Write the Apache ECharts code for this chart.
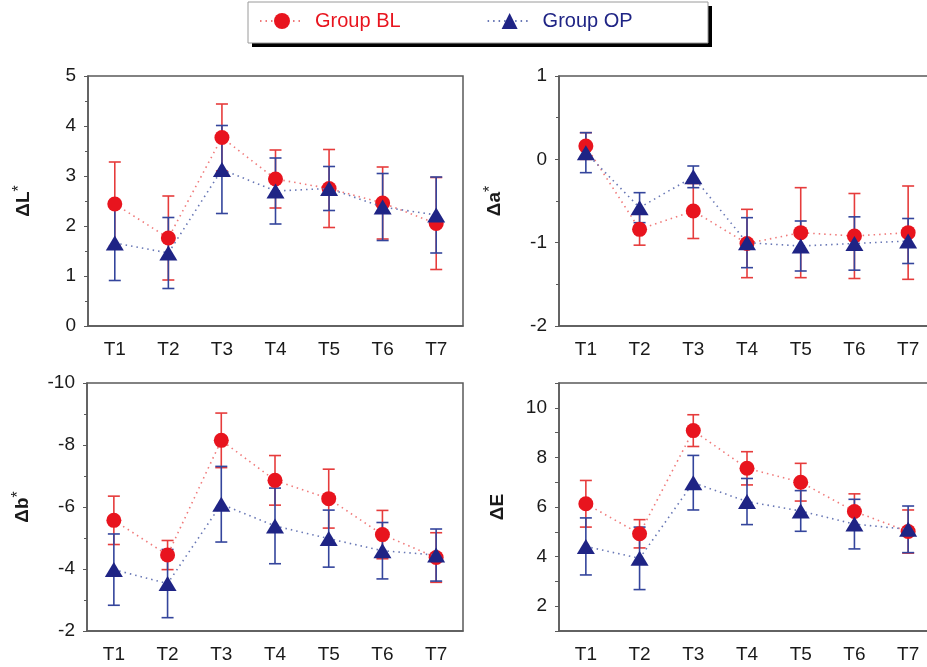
<!DOCTYPE html>
<html>
<head>
<meta charset="utf-8">
<title>Color change chart</title>
<script src="https://cdn.jsdelivr.net/npm/echarts@6/dist/echarts.min.js"></script>
<style>
  html, body { margin: 0; padding: 0; background: #fff; }
  #chart { width: 927px; height: 667px; }
</style>
</head>
<body>
<div id="chart"></div>
<script>
// categories
const categories = ['T1', 'T2', 'T3', 'T4', 'T5', 'T6', 'T7']

// ΔL* (mean / sd)
const lBL = [2.44, 1.76, 3.77, 2.94, 2.75, 2.46, 2.05]
const lBLsd = [0.84, 0.84, 0.67, 0.58, 0.78, 0.72, 0.92]
const lOP = [1.66, 1.46, 3.13, 2.70, 2.75, 2.38, 2.22]
const lOPsd = [0.75, 0.71, 0.88, 0.66, 0.44, 0.67, 0.76]

// Δa*
const aBL = [0.16, -0.84, -0.62, -1.01, -0.88, -0.92, -0.88]
const aBLsd = [0.16, 0.19, 0.33, 0.41, 0.54, 0.51, 0.56]
const aOP = [0.08, -0.58, -0.21, -1.00, -1.04, -1.01, -0.98]
const aOPsd = [0.24, 0.18, 0.13, 0.30, 0.30, 0.32, 0.27]

// Δb*
const bBL = [-5.57, -4.45, -8.15, -6.86, -6.27, -5.11, -4.37]
const bBLsd = [0.78, 0.47, 0.88, 0.80, 0.95, 0.78, 0.80]
const bOP = [-3.98, -3.53, -6.09, -5.39, -4.98, -4.59, -4.45]
const bOPsd = [1.15, 1.10, 1.22, 1.22, 0.92, 0.91, 0.84]

// ΔE
const eBL = [6.13, 4.92, 9.08, 7.56, 7.00, 5.82, 5.01]
const eBLsd = [0.94, 0.57, 0.64, 0.67, 0.76, 0.71, 0.87]
const eOP = [4.41, 3.93, 6.98, 6.22, 5.84, 5.31, 5.10]
const eOPsd = [1.15, 1.26, 1.10, 0.93, 0.82, 1.00, 0.94]

const FONT = 'Liberation Sans, Arial, sans-serif'
const RED = '#e8141e'
const NAVY = '#1f2485'
const RED_BAR = '#e63c3c'
const NAVY_BAR = '#34459c'
const AXIS = '#5a5a5a'

const panels = [
  { name: 'ΔL', mean: [lBL, lOP], sd: [lBLsd, lOPsd], min: 0, max: 5, interval: 1, grid: { left: 88, top: 76, width: 375, height: 250 } },
  { name: 'Δa', mean: [aBL, aOP], sd: [aBLsd, aOPsd], min: -2, max: 1, interval: 1, grid: { left: 559, top: 76, width: 376, height: 250 } },
  { name: 'Δb', mean: [bBL, bOP], sd: [bBLsd, bOPsd], min: -10, max: -2, interval: 2, inverse: true, grid: { left: 87, top: 383, width: 376, height: 248 } },
  { name: 'ΔE', mean: [eBL, eOP], sd: [eBLsd, eOPsd], min: 1, max: 11, interval: 1, even: true, grid: { left: 559, top: 383, width: 376, height: 248 } }
]

function errorBars (color) {
  return function (params, api) {
    const x = api.value(0)
    const lo = api.coord([x, api.value(1)])
    const hi = api.coord([x, api.value(2)])
    const w = 6
    const style = { stroke: color, lineWidth: 1.6 }
    return {
      type: 'group',
      children: [
        { type: 'line', shape: { x1: lo[0], y1: lo[1], x2: hi[0], y2: hi[1] }, style: style },
        { type: 'line', shape: { x1: lo[0] - w, y1: lo[1], x2: lo[0] + w, y2: lo[1] }, style: style },
        { type: 'line', shape: { x1: hi[0] - w, y1: hi[1], x2: hi[0] + w, y2: hi[1] }, style: style }
      ]
    }
  }
}

const grid = []
const xAxis = []
const yAxis = []
const series = []

panels.forEach((p, i) => {
  grid.push(Object.assign({
    show: true,
    borderColor: AXIS,
    borderWidth: 1.5,
    backgroundColor: 'transparent',
    outerBoundsMode: 'none'
  }, p.grid))
  xAxis.push({
    type: 'category',
    gridIndex: i,
    data: categories,
    boundaryGap: true,
    axisLine: { onZero: false, lineStyle: { color: AXIS, width: 1.5 } },
    axisTick: { alignWithLabel: true, length: 4, lineStyle: { color: AXIS } },
    axisLabel: { color: '#1a1a1a', fontSize: 19, fontFamily: FONT, margin: 14 },
    splitLine: { show: false }
  })
  yAxis.push({
    type: 'value',
    gridIndex: i,
    min: p.min,
    max: p.max,
    interval: p.interval,
    inverse: !!p.inverse,
    name: '{a|' + p.name + '}' + (p.name === 'ΔE' ? '' : '{s|*}'),
    nameLocation: 'middle',
    nameGap: 52,
    nameTextStyle: {
      rich: {
        a: { fontSize: 19, fontWeight: 'bold', fontFamily: FONT, color: '#1a1a1a' },
        s: { fontSize: 16, fontFamily: FONT, color: '#1a1a1a', padding: [0, 0, 8, 0] }
      }
    },
    axisLine: { show: true, onZero: false, lineStyle: { color: AXIS, width: 1.5 } },
    axisTick: { show: true, length: 4, lineStyle: { color: AXIS } },
    minorTick: { show: !p.even, splitNumber: 2, length: 3, lineStyle: { color: AXIS } },
    axisLabel: {
      color: '#1a1a1a',
      fontSize: 19,
      fontFamily: FONT,
      margin: 12,
      formatter: v => (p.even && v % 2 !== 0) ? '' : String(v)
    },
    splitLine: { show: false }
  })

  const barColors = [RED_BAR, NAVY_BAR]
  ;[0, 1].forEach(g => {
    series.push({
      name: g === 0 ? 'BL error' : 'OP error',
      type: 'custom',
      xAxisIndex: i,
      yAxisIndex: i,
      z: 2 + g,
      renderItem: errorBars(barColors[g]),
      encode: { x: 0, y: [1, 2] },
      data: p.mean[g].map((m, k) => [k, m - p.sd[g][k], m + p.sd[g][k]])
    })
  })
  series.push({
    name: 'Group BL',
    type: 'line',
    xAxisIndex: i,
    yAxisIndex: i,
    z: 5,
    data: p.mean[0],
    symbol: 'circle',
    symbolSize: 15,
    itemStyle: { color: RED },
    lineStyle: { color: '#f07a7a', width: 1.6, type: [1.5, 4] },
    emphasis: { disabled: true }
  })
  series.push({
    name: 'Group OP',
    type: 'line',
    xAxisIndex: i,
    yAxisIndex: i,
    z: 6,
    data: p.mean[1],
    symbol: 'triangle',
    symbolSize: [18, 15],
    itemStyle: { color: NAVY },
    lineStyle: { color: '#6877b5', width: 1.6, type: [1.5, 4] },
    emphasis: { disabled: true }
  })
})

const chart = echarts.init(document.getElementById('chart'))
chart.setOption({
  animation: false,
  textStyle: { fontFamily: FONT },
  // legend frame with a hard black drop shadow
  graphic: [
    { type: 'rect', z: 0, shape: { x: 252, y: 6, width: 460, height: 41 }, style: { fill: '#000' } },
    { type: 'rect', z: 1, shape: { x: 248, y: 2, width: 460, height: 41 }, style: { fill: '#fff', stroke: '#9a9a9a', lineWidth: 1 } }
  ],
  legend: {
    left: 259,
    top: 11,
    padding: 0,
    itemWidth: 44,
    itemHeight: 20,
    itemGap: 86,
    textStyle: { fontSize: 20, fontFamily: FONT, padding: [0, 0, 0, 6] },
    data: [
      { name: 'Group BL', textStyle: { color: RED } },
      { name: 'Group OP', textStyle: { color: NAVY } }
    ]
  },
  grid: grid,
  xAxis: xAxis,
  yAxis: yAxis,
  series: series
})
</script>
</body>
</html>
